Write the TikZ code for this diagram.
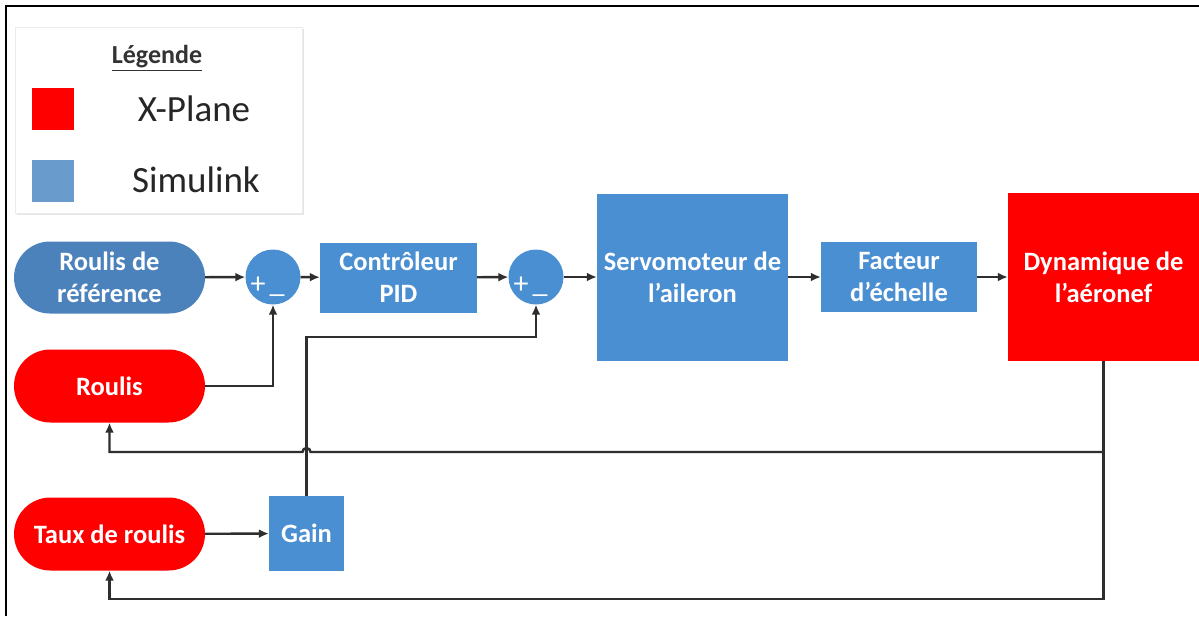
\documentclass[tikz,border=0pt]{standalone}
\usepackage{fontspec}
\setmainfont{Carlito}
\usetikzlibrary{shapes.misc,arrows.meta,shadows,calc}
\definecolor{xred}{HTML}{FE0000}
\definecolor{sblue}{HTML}{4A8FD2}
\definecolor{rblue}{HTML}{4C82BC}
\definecolor{lblue}{HTML}{6A9BCD}
\definecolor{wire}{HTML}{2E2E2E}
\begin{document}
\begin{tikzpicture}[x=1pt,y=-1pt,
  boxtxt/.style={text=white,font=\fontsize{26.5}{32}\selectfont\bfseries,align=center,inner sep=0pt},
  sbox/.style={boxtxt,fill=sblue,draw=none,minimum width=#1},
  pill/.style={boxtxt,rounded rectangle,minimum width=191pt,minimum height=73pt},
  sumnode/.style={circle,fill=sblue,minimum size=55pt,inner sep=0pt},
  signtxt/.style={text=white,font=\fontsize{30}{30}\selectfont,inner sep=0pt},
  wireline/.style={draw=wire,line width=2.4pt},
  arr/.style={wireline,-{Latex[length=10pt,width=9pt]}},
  legtxt/.style={font=\fontsize{37}{42}\selectfont,text=black!85,inner sep=0pt}
]
\useasboundingbox (0,0) rectangle (1199,616);
\fill[white] (0,0) rectangle (1199,616);
% frame
\draw[black,line width=2.2pt] (6,616) -- (6,6) -- (1199,6);
% legend
\node[draw=black!8,fill=white,drop shadow={opacity=0.2,shadow xshift=2pt,shadow yshift=-2pt},
  minimum width=287pt,minimum height=186pt,inner sep=0pt] (legend) at (158.5,120) {};
\node[font=\fontsize{26}{28}\selectfont\bfseries,text=black!80,inner sep=0pt] (legtitle) at (157,58) {\underline{Légende}};
\node[fill=xred,minimum size=42pt,inner sep=0pt] (legred) at (52.5,109) {};
\node[fill=lblue,minimum size=42pt,inner sep=0pt] (legblue) at (52.5,181) {};
\node[legtxt] (legx) at (194,109) {X-Plane};
\node[legtxt] (legs) at (196,180) {Simulink};
% main chain
\node[pill,fill=rblue,minimum height=72pt] (ref) at (109.5,277.5) {Roulis de\\référence};
\node[sumnode] (s1) at (273,277) {};
\node[sbox=157pt,minimum height=70pt] (pid) at (398.5,277.5) {Contrôleur\\PID};
\node[sumnode] (s2) at (536,277) {};
\node[sbox=191pt,minimum height=167pt] (servo) at (692.5,277) {Servomoteur de\\l’aileron};
\node[sbox=156pt,minimum height=70pt] (fact) at (899,277) {Facteur\\d’échelle};
\node[boxtxt,fill=xred,minimum width=191pt,minimum height=168pt] (dyn) at (1103.5,277) {Dynamique de\\l’aéronef};
\node[pill,fill=xred] (roulis) at (109.5,386) {Roulis};
\node[pill,fill=xred] (taux) at (109.5,534) {Taux de roulis};
\node[sbox=75pt,minimum height=75pt] (gain) at (306.5,533.5) {Gain};
% sum signs
\foreach \s in {s1,s2}{
  \node[signtxt] at ([xshift=-15pt,yshift=-8pt]\s.center) {+};
  \node[signtxt] at ([xshift=4pt,yshift=-18pt]\s.center) {\_};
}
% coordinates
\coordinate (bb) at (dyn.south |- 0,599);
\coordinate (br) at (dyn.south |- 0,452);
\coordinate (gc) at (gain.north |- 0,337);
% connectors
\draw[arr] (ref) -- (s1);
\draw[arr] (s1) -- (pid);
\draw[arr] (pid) -- (s2);
\draw[arr] (s2) -- (servo);
\draw[arr] (servo.east |- fact.west) -- (fact.west);
\draw[arr] (fact) -- (dyn.west |- fact.east);
\draw[arr] (roulis.east) -| (s1.south);
\draw[arr] (taux) -- (gain);
\draw[arr] (gain.north) -- (gc) -| (s2.south);
\draw[arr] (dyn.south) -- (bb) -| (taux.south);
\draw[arr] (br) -- ($(gain.north |- br)+(4,0)$) arc[start angle=0,end angle=180,radius=4pt] -- (roulis.south |- br) -- (roulis.south);
\end{tikzpicture}
\end{document}
